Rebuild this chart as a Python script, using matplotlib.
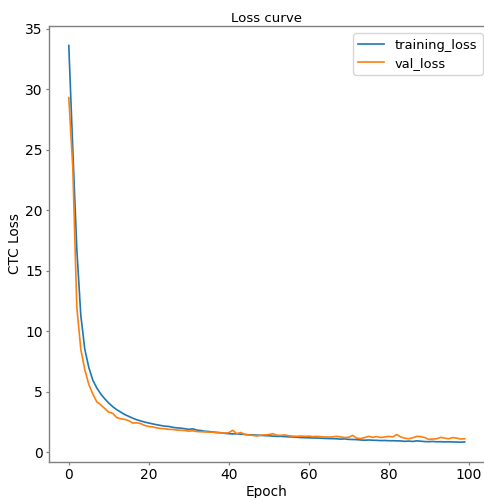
import matplotlib
matplotlib.use("Agg")
import matplotlib.pyplot as plt

epochs = list(range(100))
training_loss = [
    33.6, 25.0, 16.8, 11.3, 8.5, 7.0, 5.95, 5.3, 4.8, 4.4,
    4.05, 3.75, 3.5, 3.3, 3.1, 2.95, 2.8, 2.67, 2.57, 2.48,
    2.4, 2.33, 2.26, 2.2, 2.14, 2.12, 2.05, 2.0, 1.98, 1.93,
    1.88, 1.92, 1.82, 1.78, 1.72, 1.7, 1.66, 1.63, 1.6, 1.55,
    1.52, 1.5, 1.51, 1.48, 1.46, 1.43, 1.42, 1.4, 1.38, 1.36,
    1.35, 1.32, 1.3, 1.3, 1.28, 1.26, 1.25, 1.23, 1.2, 1.19,
    1.18, 1.17, 1.16, 1.15, 1.13, 1.12, 1.11, 1.1, 1.07, 1.09,
    1.05, 1.04, 1.03, 1.0, 0.98, 1.0, 0.98, 0.97, 0.95, 0.96,
    0.94, 0.94, 0.93, 0.92, 0.89, 0.91, 0.88, 0.93, 0.9, 0.87,
    0.86, 0.88, 0.85, 0.86, 0.84, 0.85, 0.84, 0.83, 0.82, 0.84,
]
val_loss = [
    29.3, 23.5, 12.0, 8.5, 6.8, 5.6, 4.8, 4.15, 3.9, 3.6,
    3.3, 3.2, 2.85, 2.75, 2.7, 2.6, 2.4, 2.42, 2.35, 2.2,
    2.12, 2.08, 2.0, 1.95, 1.93, 1.88, 1.87, 1.82, 1.8, 1.78,
    1.73, 1.76, 1.7, 1.68, 1.67, 1.65, 1.64, 1.6, 1.58, 1.57,
    1.6, 1.8, 1.52, 1.62, 1.45, 1.42, 1.38, 1.33, 1.4, 1.42,
    1.45, 1.52, 1.4, 1.38, 1.42, 1.35, 1.32, 1.3, 1.33, 1.3,
    1.32, 1.28, 1.3, 1.27, 1.25, 1.24, 1.26, 1.3, 1.25, 1.2,
    1.22, 1.38, 1.15, 1.12, 1.2, 1.3, 1.22, 1.28, 1.2, 1.25,
    1.3, 1.25, 1.45, 1.25, 1.15, 1.1, 1.18, 1.3, 1.28, 1.2,
    1.05, 1.08, 1.1, 1.22, 1.15, 1.1, 1.2, 1.15, 1.08, 1.1,
]

GRAY = "#808080"
fig = plt.figure(figsize=(4.85, 4.98), dpi=100)
ax = fig.add_axes([49 / 485, 36 / 498, 1 - 49 / 485 - 0.001, (462 - 25.7) / 498])
ax.plot(epochs, training_loss, color="#1f77b4", lw=1.2, label="training_loss")
ax.plot(epochs, val_loss, color="#ff7f0e", lw=1.2, label="val_loss")
ax.set_title("Loss curve", fontsize=9.6, pad=3)
ax.set_xlabel("Epoch", fontsize=9.8, labelpad=2)
ax.set_ylabel("CTC Loss", fontsize=9.8, labelpad=2.5)
ax.tick_params(labelsize=10, length=2.2, pad=2.3, color=GRAY, width=0.9)
for s in ax.spines.values():
    s.set_color(GRAY)
    s.set_linewidth(1.0)
ax.legend(loc="upper right", fontsize=9.4, labelspacing=0.4,
          bbox_to_anchor=(1.006, 0.993), borderaxespad=0.35)
fig.savefig("out.png", dpi=100)
